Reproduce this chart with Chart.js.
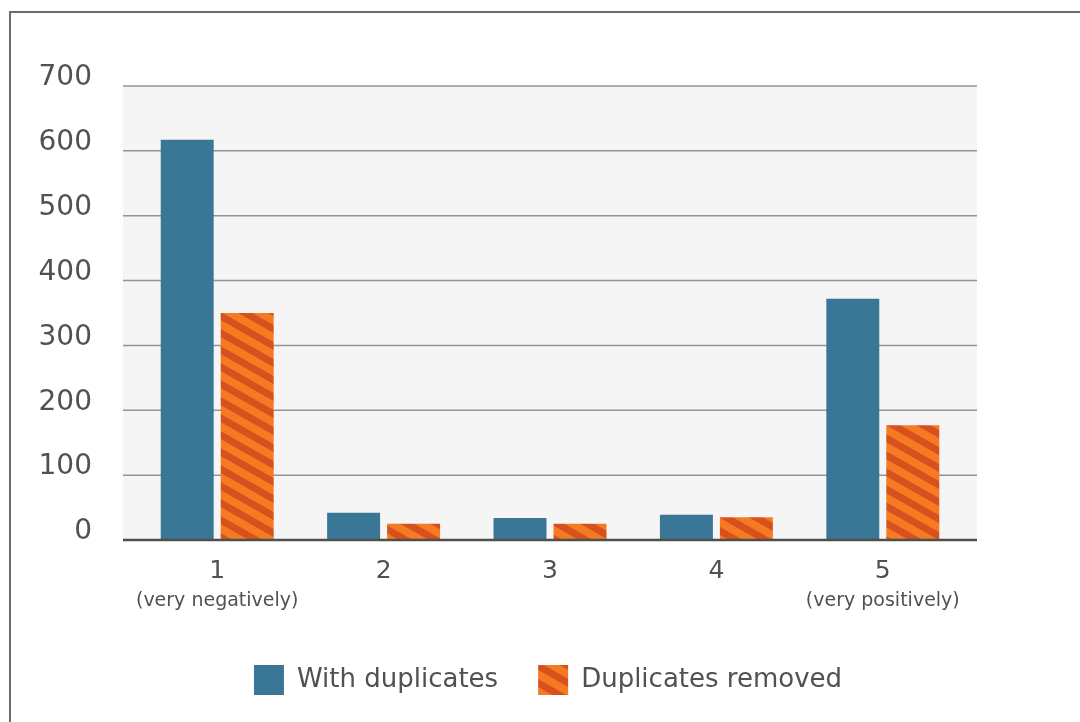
<!DOCTYPE html>
<html>
<head>
<meta charset="utf-8">
<script src="https://cdn.jsdelivr.net/npm/chart.js@4"></script>
<style>
html,body{margin:0;padding:0;background:#fff;width:1080px;height:722px;overflow:hidden}
#frame{position:absolute;left:9px;top:11px;width:1071px;height:711px;border-top:2px solid #6b6b6b;border-left:2px solid #6b6b6b;box-sizing:border-box}
#wrap{position:absolute;left:0;top:0;width:1080px;height:722px}
</style>
</head>
<body>
<div id="frame"></div>
<div id="wrap"><canvas id="c" width="1080" height="722"></canvas></div>
<script>
const categories = ['1', '2', '3', '4', '5'];
const subLabels = ['(very negatively)', '', '', '', '(very positively)'];
const withDuplicates = [617, 42, 34, 39, 372];
const duplicatesRemoved = [350, 25, 25, 35, 177];
const yMin = 0, yMax = 700, yStep = 100;
const seriesNames = ['With duplicates', 'Duplicates removed'];

const FONT = "'DejaVu Sans', 'Noto Sans', sans-serif";
const TEXT = '#50524d';
const BLUE = '#3a7796';
const ORANGE = '#f47b21';
const DARK_ORANGE = '#d9501f';

function makeStripes() {
  const w = 30, h = 17, band = 8;
  const cv = document.createElement('canvas');
  cv.width = w; cv.height = h;
  const g = cv.getContext('2d');
  g.fillStyle = ORANGE;
  g.fillRect(0, 0, w, h);
  g.fillStyle = DARK_ORANGE;
  for (let c = -h; c <= h; c += h) {
    g.beginPath();
    g.moveTo(0, c);
    g.lineTo(w, c + h);
    g.lineTo(w, c + h + band);
    g.lineTo(0, c + band);
    g.closePath();
    g.fill();
  }
  return g.createPattern(cv, 'repeat');
}
const stripes = makeStripes();

const EXT = 11;
const plotDecor = {
  id: 'plotDecor',
  beforeDatasetsDraw(chart) {
    const {ctx, chartArea: a, scales: {y}} = chart;
    ctx.save();
    ctx.fillStyle = '#f5f5f5';
    ctx.fillRect(a.left - EXT, a.top, a.right - a.left + 2 * EXT, a.bottom - a.top);
    ctx.strokeStyle = '#949494';
    ctx.lineWidth = 1.5;
    y.ticks.forEach(t => {
      if (t.value === yMin) return;
      const py = y.getPixelForValue(t.value);
      ctx.beginPath();
      ctx.moveTo(a.left - EXT, py);
      ctx.lineTo(a.right + EXT, py);
      ctx.stroke();
    });
    ctx.restore();
  },
  afterDatasetsDraw(chart) {
    const {ctx, chartArea: a, scales: {y}} = chart;
    const py = y.getPixelForValue(yMin);
    ctx.save();
    ctx.strokeStyle = '#4e504b';
    ctx.lineWidth = 2.5;
    ctx.beginPath();
    ctx.moveTo(a.left - EXT, py);
    ctx.lineTo(a.right + EXT, py);
    ctx.stroke();
    ctx.restore();
  }
};

new Chart(document.getElementById('c'), {
  type: 'bar',
  data: {
    labels: categories,
    datasets: [
      {label: seriesNames[0], data: withDuplicates, backgroundColor: BLUE, borderWidth: 0},
      {label: seriesNames[1], data: duplicatesRemoved, backgroundColor: stripes, borderWidth: 0}
    ]
  },
  options: {
    responsive: false,
    animation: false,
    devicePixelRatio: 1,
    categoryPercentage: 0.721,
    barPercentage: 0.883,
    layout: {padding: {top: 86, right: 0, bottom: 17, left: 16}},
    plugins: {
      tooltip: {enabled: false},
      legend: {
        position: 'bottom',
        align: 'center',
        labels: {
          boxWidth: 30, boxHeight: 30, padding: 40,
          color: TEXT,
          font: {family: FONT, size: 26}
        }
      }
    },
    scales: {
      x: {
        type: 'category',
        position: 'bottom',
        offset: true,
        grid: {display: false, drawTicks: false},
        border: {display: false},
        ticks: {color: TEXT, font: {family: FONT, size: 25}, padding: 16, maxRotation: 0},
        afterFit(s) { s.height = 42; }
      },
      x2: {
        type: 'category',
        labels: subLabels,
        position: 'bottom',
        offset: true,
        grid: {display: false, drawTicks: false},
        border: {display: false},
        ticks: {color: TEXT, font: {family: FONT, size: 19}, padding: 8, maxRotation: 0, autoSkip: false},
        afterFit(s) { s.height = 43; }
      },
      y: {
        min: yMin, max: yMax,
        grid: {display: false, drawTicks: false},
        border: {display: false},
        ticks: {stepSize: yStep, color: TEXT, font: {family: FONT, size: 28}, padding: 42, labelOffset: -8},
        afterFit(s) { s.width = 118; }
      },
      yR: {
        position: 'right',
        min: yMin, max: yMax,
        grid: {display: false, drawTicks: false},
        border: {display: false},
        ticks: {display: false},
        afterFit(s) { s.width = 114; }
      }
    }
  },
  plugins: [plotDecor]
});
</script>
</body>
</html>
